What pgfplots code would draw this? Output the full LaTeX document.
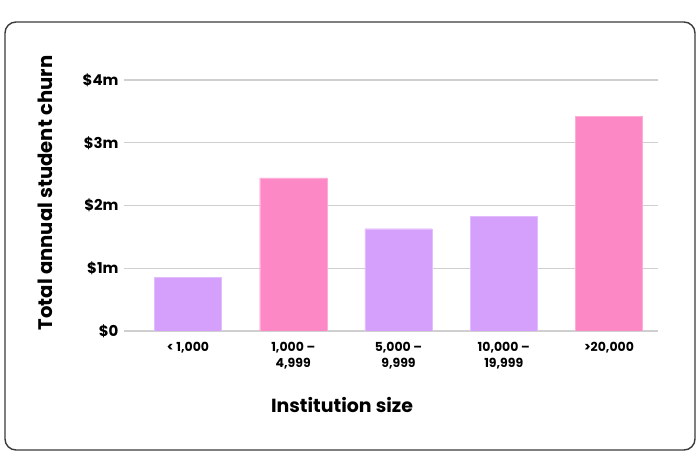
\documentclass[border=0pt]{standalone}
\usepackage{fontspec}
\setmainfont{Poppins}
\usepackage{pgfplots}
\pgfplotsset{compat=1.18}
\definecolor{barpurple}{HTML}{D5A0FC}
\definecolor{barpink}{HTML}{FC88C6}
\definecolor{gridgray}{HTML}{CFCFCF}
\definecolor{framegray}{HTML}{3A3A3A}
\begin{document}
\begin{tikzpicture}
  \useasboundingbox (0,0) rectangle (700bp,472bp);
  \draw[framegray, line width=1.4bp, rounded corners=11bp]
    (5bp,22bp) rectangle (695bp,450bp);
  \begin{axis}[
      at={(124bp,141bp)}, anchor=south west,
      scale only axis,
      width=534bp, height=251bp,
      xmin=-0.608, xmax=4.466,
      ymin=0, ymax=4,
      axis line style={draw=none},
      major tick length=0pt,
      ymajorgrids,
      grid style={gridgray, line width=1.3bp},
      xtick={0,1,2,3,4},
      xticklabels={{< 1,000},{1,000 –\\4,999},{5,000 –\\9,999},{10,000 –\\19,999},{>20,000}},
      xticklabel style={font=\fontsize{12.5}{16}\selectfont\bfseries, align=center, anchor=north, yshift=-8bp},
      ytick={0,1,2,3,4},
      yticklabels={\$0,\$1m,\$2m,\$3m,\$4m},
      yticklabel style={font=\fontsize{15}{18}\selectfont\bfseries, anchor=east, xshift=-2bp},
      ybar, bar width=0.637,
    ]
    \addplot[ybar, bar shift=0pt, fill=barpurple, draw=barpurple!70!white]
      coordinates {(0,0.86) (2,1.63) (3,1.83)};
    \addplot[ybar, bar shift=0pt, fill=barpink, draw=barpink!70!white]
      coordinates {(1,2.44) (4,3.42)};
  \end{axis}
  \node[font=\fontsize{19}{21}\selectfont\bfseries] at (342bp,67bp) {Institution size};
  \node[font=\fontsize{19.7}{22}\selectfont\bfseries, rotate=90] at (45bp,279bp) {Total annual student churn};
\end{tikzpicture}
\end{document}
